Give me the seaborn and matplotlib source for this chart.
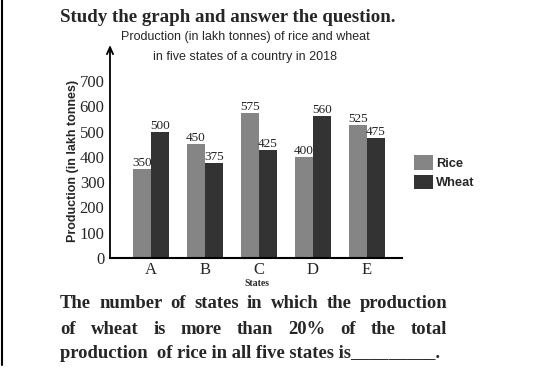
import pandas as pd
import matplotlib.pyplot as plt
import seaborn as sns
from matplotlib.lines import Line2D

# Datos del grafico
states = ['A', 'B', 'C', 'D', 'E']
rice = [350, 450, 575, 400, 525]
wheat = [500, 375, 425, 560, 475]
yticks = [0, 100, 200, 300, 400, 500, 600, 700]

data = pd.DataFrame({
    'State': states * 2,
    'Crop': ['Rice'] * len(states) + ['Wheat'] * len(states),
    'Production': rice + wheat,
})

sns.set_style('white')
plt.rcParams['font.family'] = ['Liberation Sans', 'DejaVu Sans']

W, H = 547, 384
fig = plt.figure(figsize=(W / 100, H / 100), dpi=100)
ax = fig.add_axes([110 / W, 1 - 258 / H, 292 / W, 213 / H])

sns.barplot(data=data, x='State', y='Production', hue='Crop',
            palette={'Rice': '#858585', 'Wheat': '#333333'},
            width=0.667, linewidth=0, saturation=1, ax=ax)

ax.set_xlim(-0.76, 4.65)
ax.set_ylim(0, 842)
ax.set_yticks(yticks)
ax.set_xlabel('')
ax.set_ylabel('')
ax.tick_params(length=0, pad=4, labelsize=12)
for lab in ax.get_xticklabels() + ax.get_yticklabels():
    lab.set_family('Liberation Serif')
ax.tick_params(axis='x', pad=3)

# ejes: solo la linea de abajo y una flecha vertical
for s in ['top', 'right', 'left']:
    ax.spines[s].set_visible(False)
ax.spines['bottom'].set_linewidth(1.5)
ax.spines['bottom'].set_color('black')
ax.annotate('', xy=(0, 1.0), xytext=(0, 0), xycoords='axes fraction',
            arrowprops=dict(arrowstyle='->,head_length=0.5,head_width=0.22',
                            lw=1.3, color='black', shrinkA=0, shrinkB=0))

# valores encima de las barras
for cont in ax.containers:
    ax.bar_label(cont, padding=0, fontsize=9.5, family='Liberation Serif', color='#222222')

# leyenda
ax.legend(loc='upper left', bbox_to_anchor=(408 / W, 1 - 149 / H),
          bbox_transform=fig.transFigure, frameon=False,
          prop={'family': 'Liberation Sans', 'weight': 'bold', 'size': 9.3},
          handlelength=1.4, handleheight=1.35, handletextpad=0.3,
          labelspacing=0.35, borderpad=0)

# textos
fig.text(73 / W, 1 - 161 / H, 'Production (in lakh tonnes)', rotation=90,
         ha='center', va='center', fontsize=9, weight='bold')
fig.text(245 / W, 1 - 37 / H, 'Production (in lakh tonnes) of rice and wheat',
         ha='center', va='center', fontsize=9)
fig.text(245 / W, 1 - 57 / H, 'in five states of a country in 2018',
         ha='center', va='center', fontsize=9)
fig.text(257 / W, 1 - 284 / H, 'States', ha='center', va='center',
         fontsize=7, weight='bold', family='Liberation Serif')
fig.text(60 / W, 1 - 18 / H, 'Study the graph and answer the question.',
         ha='left', va='center', fontsize=13.6, weight='bold', family='Liberation Serif')

qkw = dict(ha='left', va='center', fontsize=13.4, weight='bold', family='Liberation Serif')


def justified(line, x0, x1, y):
    words = line.split()
    texts = [fig.text(0, 1 - y / H, w, **qkw) for w in words]
    fig.canvas.draw()
    r = fig.canvas.get_renderer()
    widths = [t.get_window_extent(r).width for t in texts]
    gap = (x1 - x0 - sum(widths)) / (len(words) - 1)
    x = x0
    for t, w in zip(texts, widths):
        t.set_x(x / W)
        x += w + gap


justified('The number of states in which the production', 60, 447, 304)
justified('of wheat is more than 20% of the total', 60, 447, 329)
fig.text(60 / W, 1 - 354 / H, 'production  of rice in all five states is_________.', **qkw)

# borde izquierdo de la imagen
fig.add_artist(Line2D([1.5 / W, 1.5 / W], [1 - 365 / H, 1], color='black', lw=1.5))

fig.savefig('out.png', dpi=100)
